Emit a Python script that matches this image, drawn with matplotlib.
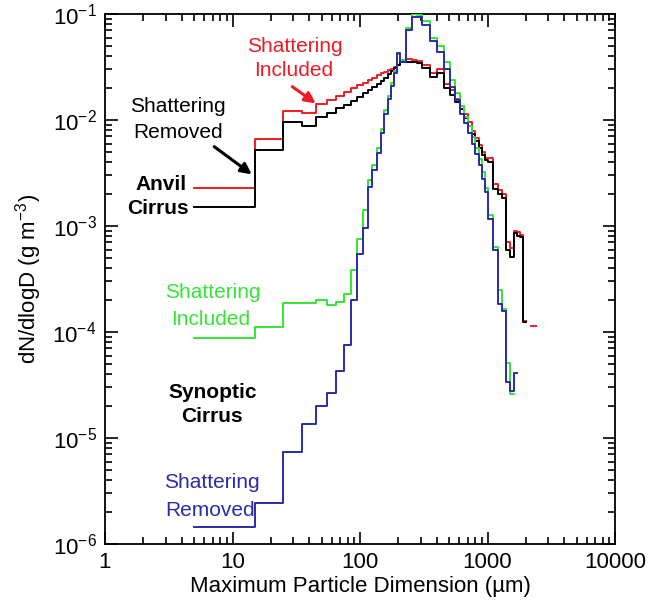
import numpy as np
import matplotlib
matplotlib.use("Agg")
import matplotlib.pyplot as plt
from matplotlib.ticker import LogLocator, FixedLocator, FixedFormatter, NullFormatter

plt.rcParams['font.family'] = ['Liberation Sans', 'DejaVu Sans']
plt.rcParams['mathtext.fontset'] = 'custom'
plt.rcParams['mathtext.rm'] = 'Liberation Sans'
plt.rcParams['mathtext.it'] = 'Liberation Sans:italic'

# ---- data: bin edges (µm) ----
bin_edges = [5, 15, 25, 35, 45, 55, 65, 75, 85, 95, 105, 115, 125, 135, 145, 155,
             165, 175, 185, 195, 205, 230, 255, 280, 305, 355, 405, 455, 505, 555,
             605, 655, 705, 755, 805, 855, 905, 955, 1005, 1105, 1205, 1305, 1405,
             1505, 1605, 1705, 1805, 1905, 2005, 2205, 2405, 2605]
nan = np.nan

anvil_included = [2.29e-3, 6.6e-3, 1.22e-2, 1.16e-2, 1.41e-2, 1.55e-2, 1.70e-2, 1.82e-2,
                  2.0e-2, 2.14e-2, 2.24e-2, 2.40e-2, 2.51e-2, 2.63e-2, 2.75e-2, 2.82e-2,
                  2.95e-2, 3.02e-2, 3.16e-2, 3.31e-2, 3.72e-2, 3.80e-2, 3.72e-2, 3.63e-2,
                  3.31e-2, 2.75e-2, 3.02e-2, 2.19e-2, 1.91e-2, 1.58e-2, 1.35e-2, 1.15e-2,
                  9.5e-3, 7.9e-3, 6.8e-3, 5.75e-3, 5.0e-3, 4.4e-3, 4.4e-3, 2.5e-3,
                  2.2e-3, 2.0e-3, 7.1e-4, 6.2e-4, 8.9e-4, 8.7e-4, 8.3e-4, 1.26e-4,
                  nan, 1.13e-4, nan]

anvil_removed = [1.50e-3, 5.2e-3, 9.6e-3, 8.8e-3, 1.07e-2, 1.17e-2, 1.29e-2, 1.38e-2,
                 1.51e-2, 1.66e-2, 1.78e-2, 1.91e-2, 2.04e-2, 2.19e-2, 2.34e-2, 2.51e-2,
                 2.69e-2, 2.88e-2, 3.09e-2, 3.31e-2, 3.55e-2, 3.55e-2, 3.55e-2, 3.47e-2,
                 3.09e-2, 2.57e-2, 2.75e-2, 2.0e-2, 1.74e-2, 1.48e-2, 1.26e-2, 1.05e-2,
                 8.7e-3, 7.4e-3, 6.3e-3, 5.4e-3, 4.7e-3, 4.2e-3, 4.0e-3, 2.24e-3,
                 2.0e-3, 1.82e-3, 6.0e-4, 5.1e-4, 8.5e-4, 8.1e-4, 7.9e-4, 1.23e-4,
                 nan, nan, nan]

synoptic_included = [8.8e-5, 1.12e-4, 1.87e-4, 1.87e-4, 2.0e-4, 1.8e-4, 1.9e-4, 2.3e-4,
                     3.85e-4, 7.6e-4, 1.41e-3, 2.7e-3, 3.8e-3, 5.4e-3, 8.3e-3, 1.23e-2,
                     1.70e-2, 2.24e-2, 2.88e-2, 4.17e-2, 3.72e-2, 7.4e-2, 1.0e-1, 9.8e-2,
                     8.5e-2, 6.0e-2, 5.0e-2, 3.55e-2, 2.4e-2, 1.78e-2, 1.35e-2, 1.07e-2,
                     8.7e-3, 6.9e-3, 5.4e-3, 4.3e-3, 3.2e-3, 2.3e-3, 1.26e-3, 6.3e-4,
                     2.5e-4, 1.66e-4, 5.1e-5, 2.6e-5, nan, nan, nan, nan,
                     nan, nan, nan]

synoptic_removed = [1.46e-6, 2.42e-6, 7.4e-6, 1.35e-5, 2.0e-5, 2.68e-5, 4.3e-5, 7.5e-5,
                    2.0e-4, 5.4e-4, 9.5e-4, 2.34e-3, 3.4e-3, 4.9e-3, 7.6e-3, 1.15e-2,
                    1.58e-2, 2.09e-2, 2.75e-2, 4.27e-2, 3.55e-2, 7.1e-2, 9.3e-2, 9.3e-2,
                    7.9e-2, 5.6e-2, 4.4e-2, 3.0e-2, 2.04e-2, 1.55e-2, 1.15e-2, 9.3e-3,
                    7.6e-3, 6.0e-3, 4.8e-3, 3.8e-3, 2.8e-3, 2.1e-3, 1.17e-3, 5.9e-4,
                    1.82e-4, 1.58e-4, 3.4e-5, 2.8e-5, 4.1e-5, nan, nan, nan,
                    nan, nan, nan]

x_ticks = [1, 10, 100, 1000, 10000]
x_tick_labels = ["1", "10", "100", "1000", "10000"]
y_ticks = [1e-6, 1e-5, 1e-4, 1e-3, 1e-2, 1e-1]
y_tick_labels = [r"10$^{-6}$", r"10$^{-5}$", r"10$^{-4}$", r"10$^{-3}$", r"10$^{-2}$", r"10$^{-1}$"]

RED = "#ee1c24"
BLACK = "#000000"
GREEN = "#33e633"
BLUE = "#2b2ba8"

W, H = 653, 606
fig = plt.figure(figsize=(W / 100, H / 100), dpi=100)
ax = fig.add_axes([105 / W, 1 - 544 / H, 510 / W, 530 / H])

edges = np.array(bin_edges, dtype=float)

def draw(vals, color, z):
    v = np.array(vals, dtype=float)
    ax.step(edges, np.append(v, nan), where='post', color=color, lw=1.4, zorder=z)

draw(anvil_included, RED, 2)
draw(anvil_removed, BLACK, 3)
draw(synoptic_included, GREEN, 4)
draw(synoptic_removed, BLUE, 5)

ax.set_xscale('log')
ax.set_yscale('log')
ax.set_xlim(1, 10000)
ax.set_ylim(1e-6, 1e-1)

ax.xaxis.set_major_locator(FixedLocator(x_ticks))
ax.xaxis.set_major_formatter(FixedFormatter(x_tick_labels))
ax.yaxis.set_major_locator(FixedLocator(y_ticks))
ax.yaxis.set_major_formatter(FixedFormatter(y_tick_labels))
ax.xaxis.set_minor_locator(LogLocator(base=10, subs=np.arange(2, 10), numticks=20))
ax.yaxis.set_minor_locator(LogLocator(base=10, subs=np.arange(2, 10), numticks=20))
ax.xaxis.set_minor_formatter(NullFormatter())
ax.yaxis.set_minor_formatter(NullFormatter())

ax.tick_params(which='both', direction='in', top=True, right=True, width=1.2)
ax.tick_params(which='major', length=9, labelsize=16, pad=6)
ax.tick_params(which='minor', length=5)
for s in ax.spines.values():
    s.set_linewidth(1.3)

ax.set_xlabel("Maximum Particle Dimension (\u00b5m)", fontsize=16, labelpad=2)
ax.set_ylabel(r"dN/dlogD (g m$^{-3}$)", fontsize=16, labelpad=6)

def ftext(x, y, s, color, bold=False):
    fig.text(x / W, 1 - y / H, s, color=color, fontsize=15, ha='center', va='center',
             fontweight='bold' if bold else 'normal')

ftext(295, 47, "Shattering", RED)
ftext(294, 71, "Included", RED)
ftext(178, 107, "Shattering", BLACK)
ftext(178, 132, "Removed", BLACK)
ftext(161, 184, "Anvil", BLACK, True)
ftext(158, 209, "Cirrus", BLACK, True)
ftext(213, 292, "Shattering", GREEN)
ftext(211, 320, "Included", GREEN)
ftext(213, 392, "Synoptic", BLACK, True)
ftext(212, 416, "Cirrus", BLACK, True)
ftext(212, 482, "Shattering", BLUE)
ftext(210, 511, "Removed", BLUE)

def farrow(x0, y0, x1, y1, color):
    fig.patches.append(matplotlib.patches.FancyArrowPatch(
        (x0 / W, 1 - y0 / H), (x1 / W, 1 - y1 / H), transform=fig.transFigure,
        arrowstyle='-|>', mutation_scale=16, lw=2.2, color=color))

farrow(290, 85, 318, 105, RED)
farrow(212, 145, 254, 176, BLACK)

fig.savefig("out.png", dpi=100)
